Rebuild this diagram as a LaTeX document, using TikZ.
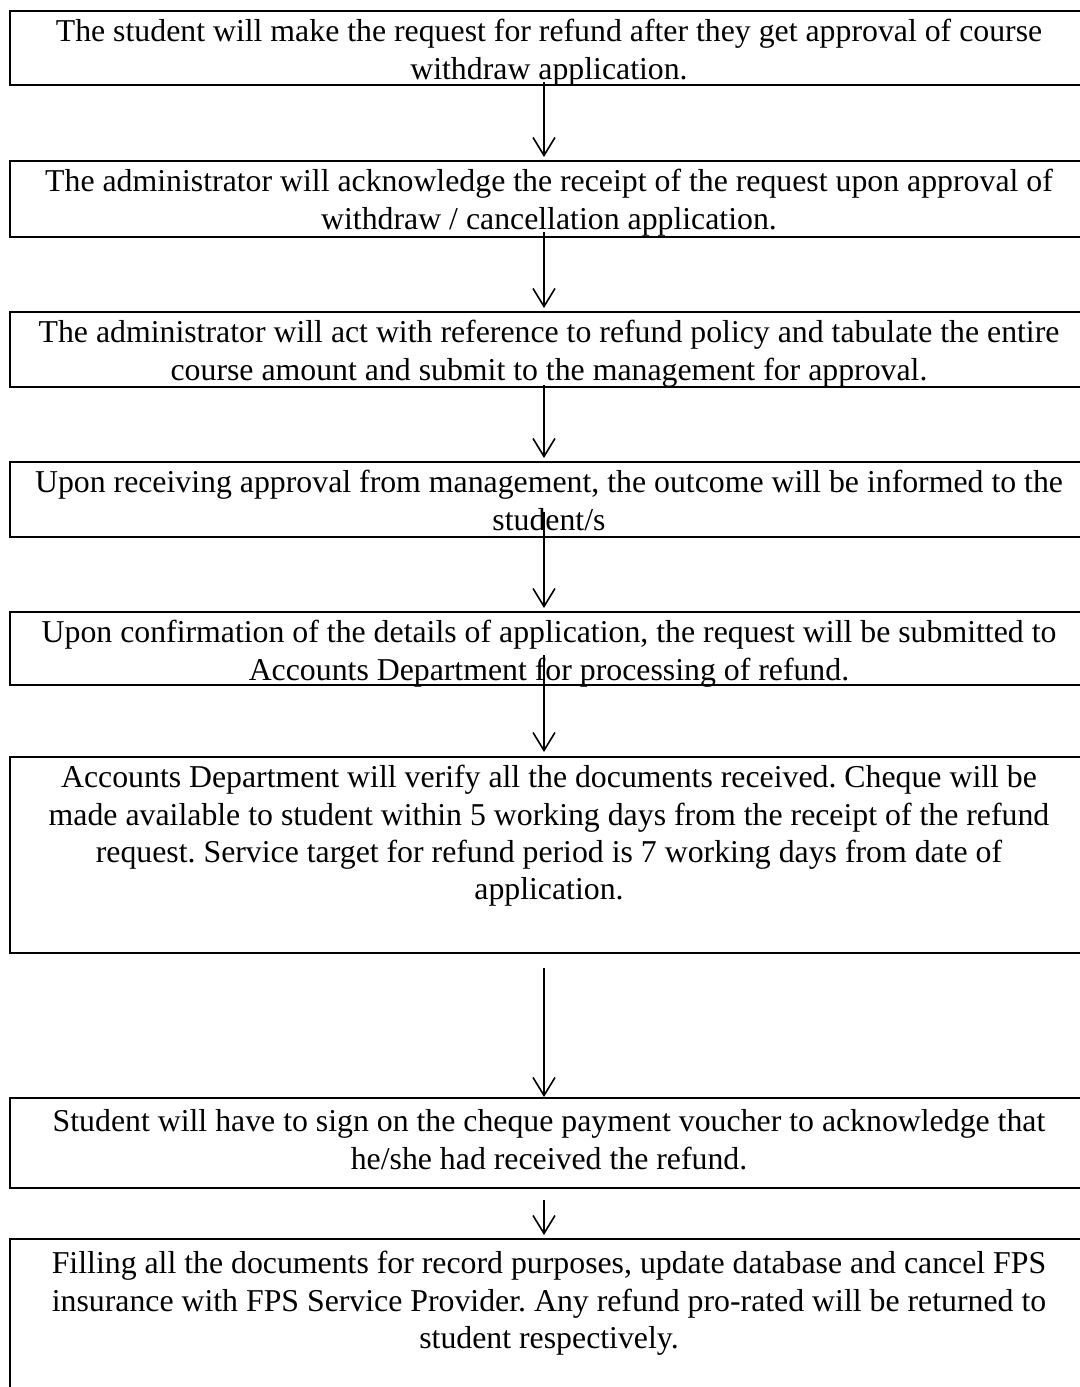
\documentclass[tikz,border=0pt]{standalone}
\usepackage{fontspec}
\setmainfont{Liberation Serif}
\usepackage{tikz}
\usetikzlibrary{positioning}
\usetikzlibrary{arrows.meta}
\tikzstyle{arrow}= [thick, ->, >={Straight Barb[length=9pt,width=11pt]}]

\begin{document}
\begin{tikzpicture}[
    node distance=37.5pt,
    stepbox/.style={
    draw,line width=0.65pt,minimum width=539pt,inner ysep=0pt,outer sep=0pt,align=center,
    font=\fontsize{15.9pt}{18.7pt}\selectfont\frenchspacing,
    text height=34pt,text depth=3.5pt
    }
  ]
  \useasboundingbox (0,0) rectangle (540pt,-693.5pt);

  \node[stepbox,text depth=3pt,anchor=north west] (req) at (5pt,-5.5pt) {The student will make the request for refund after they get approval of course\\ withdraw application.};
  \node[stepbox,text depth=4pt,below=38pt of req] (ack) {The administrator will acknowledge the receipt of the request upon approval of\\ withdraw / cancellation application.};
  \node[stepbox,below=of ack] (tab) {The administrator will act with reference to refund policy and tabulate the entire\\ course amount and submit to the management for approval.};
  \node[stepbox,below=of tab] (inf) {Upon receiving approval from management, the outcome will be informed to the\\ student/s};
  \node[stepbox,text depth=2.5pt,below=of inf] (sub) {Upon confirmation of the details of application, the request will be submitted to\\ Accounts Department for processing of refund.};
  \node[stepbox,text height=71.4pt,text depth=26.6pt,below=36pt of sub] (acc) {Accounts Department will verify all the documents received. Cheque will be\\ made available to student within 5 working days from the receipt of the refund\\ request. Service target for refund period is 7 working days from date of\\ application.};
  \node[stepbox,text height=35.5pt,text depth=9.5pt,below=72.5pt of acc] (sign) {Student will have to sign on the cheque payment voucher to acknowledge that\\ he/she had received the refund.};
  \node[stepbox,text height=54.7pt,text depth=40pt,below=25.5pt of sign] (file) {Filling all the documents for record purposes, update database and cancel FPS\\ insurance with FPS Service Provider. Any refund pro-rated will be returned to\\ student respectively.};

  \draw[arrow,shorten <=-1.5pt,shorten >=2pt] ([xshift=-2.5pt]req.south) -- ([xshift=-2.5pt]ack.north);
  \draw[arrow,shorten <=-2.5pt,shorten >=2pt] ([xshift=-2.5pt]ack.south) -- ([xshift=-2.5pt]tab.north);
  \draw[arrow,shorten <=-1pt,shorten >=2pt] ([xshift=-2.5pt]tab.south) -- ([xshift=-2.5pt]inf.north);
  \draw[arrow,shorten <=-12.5pt,shorten >=2pt] ([xshift=-2.5pt]inf.south) -- ([xshift=-2.5pt]sub.north);
  \draw[arrow,shorten <=-15pt,shorten >=2.5pt] ([xshift=-2.5pt]sub.south) -- ([xshift=-2.5pt]acc.north);
  \draw[arrow,shorten <=7.5pt,shorten >=0.5pt] ([xshift=-2.5pt]acc.south) -- ([xshift=-2.5pt]sign.north);
  \draw[arrow,shorten <=6pt,shorten >=2pt] ([xshift=-2.5pt]sign.south) -- ([xshift=-2.5pt]file.north);
\end{tikzpicture}
\end{document}
